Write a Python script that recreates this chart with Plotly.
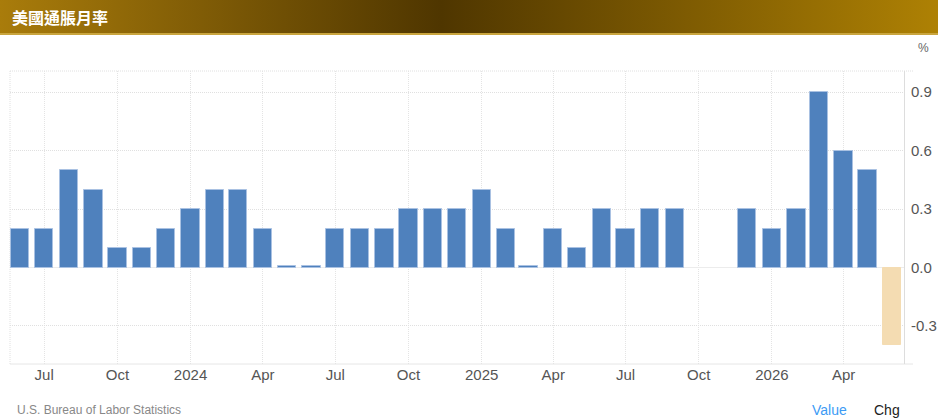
import base64
import plotly.graph_objects as go

# ---- data ----
months = [
    "2023-06-01", "2023-07-01", "2023-08-01", "2023-09-01", "2023-10-01", "2023-11-01",
    "2023-12-01", "2024-01-01", "2024-02-01", "2024-03-01", "2024-04-01", "2024-05-01",
    "2024-06-01", "2024-07-01", "2024-08-01", "2024-09-01", "2024-10-01", "2024-11-01",
    "2024-12-01", "2025-01-01", "2025-02-01", "2025-03-01", "2025-04-01", "2025-05-01",
    "2025-06-01", "2025-07-01", "2025-08-01", "2025-09-01", "2025-10-01", "2025-11-01",
    "2025-12-01", "2026-01-01", "2026-02-01", "2026-03-01", "2026-04-01", "2026-05-01",
]
values = [
    0.2, 0.2, 0.5, 0.4, 0.1, 0.1,
    0.2, 0.3, 0.4, 0.4, 0.2, 0.01,
    0.01, 0.2, 0.2, 0.2, 0.3, 0.3,
    0.3, 0.4, 0.2, 0.01, 0.2, 0.1,
    0.3, 0.2, 0.3, 0.3, None, None,
    0.3, 0.2, 0.3, 0.9, 0.6, 0.5,
]
forecast_month = ["2026-06-01"]
forecast_value = [-0.4]

x_tick_dates = ["2023-07-01", "2023-10-01", "2024-01-01", "2024-04-01", "2024-07-01",
                "2024-10-01", "2025-01-01", "2025-04-01", "2025-07-01", "2025-10-01",
                "2026-01-01", "2026-04-01"]
x_tick_text = ["Jul", "Oct", "2024", "Apr", "Jul", "Oct", "2025", "Apr", "Jul", "Oct",
               "2026", "Apr"]
y_tick_vals = [-0.3, 0.0, 0.3, 0.6, 0.9]
y_tick_text = ["%.1f" % v for v in y_tick_vals]

title_text = "美國通脹月率"
source_text = "U.S. Bureau of Labor Statistics"

# ---- layout geometry (pixels) ----
W, H = 938, 419
L, R, T, B = 10, 34, 71, 55
PW, PH = W - L - R, H - T - B


def px_x(px):
    return (px - L) / PW


def px_y(py):
    return (H - B - py) / PH


DAY = 86400000
BAR_W = 23 * DAY
FONT = "Liberation Sans, Arial, sans-serif"

fig = go.Figure()
fig.add_trace(go.Bar(
    x=months, y=values, width=BAR_W,
    marker=dict(color="#4f81bd", line=dict(color="#a9c1e2", width=1)),
    hoverinfo="x+y", showlegend=False,
))
fig.add_trace(go.Bar(
    x=forecast_month, y=forecast_value, width=BAR_W,
    marker=dict(color="#f4dcb2", line=dict(color="#f4dcb2", width=1)),
    showlegend=False,
))

# title bar gradient as svg image
svg = (
    '<svg xmlns="http://www.w3.org/2000/svg" width="938" height="35" viewBox="0 0 938 35" '
    'preserveAspectRatio="none">'
    '<defs><linearGradient id="g" x1="0" y1="0" x2="1" y2="0">'
    '<stop offset="0" stop-color="#a97c0b"/>'
    '<stop offset="0.47" stop-color="#4f3600"/>'
    '<stop offset="1" stop-color="#ae8104"/>'
    '</linearGradient></defs>'
    '<rect x="0" y="0" width="938" height="33" fill="url(#g)"/>'
    '<rect x="0" y="33" width="938" height="2" fill="#c9a53e"/>'
    '</svg>'
)
src = "data:image/svg+xml;base64," + base64.b64encode(svg.encode()).decode()

DOT = "1px,1px"

fig.update_layout(
    width=W, height=H,
    margin=dict(l=L, r=R, t=T, b=B, autoexpand=False),
    paper_bgcolor="white", plot_bgcolor="white",
    bargap=0,
    images=[dict(source=src, xref="paper", yref="paper",
                 x=px_x(0), y=px_y(0), sizex=W / PW, sizey=35 / PH,
                 xanchor="left", yanchor="top", sizing="stretch", layer="above")],
    xaxis=dict(
        type="date",
        range=["2023-05-19", "2026-06-16"],
        tickvals=x_tick_dates, ticktext=x_tick_text,
        showgrid=True, gridcolor="#e4e4e4", griddash=DOT, gridwidth=1,
        zeroline=False, showline=False, ticks="", automargin=False,
        tickfont=dict(family=FONT, size=15, color="#555555"),
        fixedrange=True,
    ),
    yaxis=dict(
        side="right",
        range=[-0.495, 1.008],
        tickvals=y_tick_vals, ticktext=y_tick_text,
        showgrid=True, gridcolor="#e0e0e0", griddash=DOT, gridwidth=1,
        zeroline=True, zerolinecolor="#ececec", zerolinewidth=1,
        showline=True, linecolor="#dddddd", linewidth=1,
        ticks="", ticklabelstandoff=3, automargin=False,
        tickfont=dict(family=FONT, size=15, color="#555555"),
        fixedrange=True,
    ),
    shapes=[
        dict(type="line", xref="paper", yref="paper", x0=0, x1=px_x(913), y0=1, y1=1,
             line=dict(color="#e0e0e0", width=1, dash=DOT), layer="below"),
        dict(type="line", xref="paper", yref="paper", x0=0, x1=0, y0=0, y1=1,
             line=dict(color="#e0e0e0", width=1, dash=DOT), layer="below"),
        dict(type="line", xref="paper", yref="paper", x0=0, x1=px_x(913), y0=0, y1=0,
             line=dict(color="#e6e6e6", width=1), layer="below"),
    ],
    annotations=[
        dict(text="<b>" + title_text + "</b>", xref="paper", yref="paper",
             x=px_x(10), y=px_y(17), xanchor="left", yanchor="middle", showarrow=False,
             font=dict(family="Noto Sans CJK TC", size=16, color="white")),
        dict(text="%", xref="paper", yref="paper", x=px_x(924), y=px_y(48),
             xanchor="center", yanchor="middle", showarrow=False,
             font=dict(family=FONT, size=12, color="#666666")),
        dict(text=source_text, xref="paper", yref="paper", x=px_x(15), y=px_y(410),
             xanchor="left", yanchor="middle", showarrow=False,
             font=dict(family=FONT, size=12, color="#888888")),
        dict(text="Value", xref="paper", yref="paper", x=px_x(810), y=px_y(410),
             xanchor="left", yanchor="middle", showarrow=False,
             font=dict(family=FONT, size=14, color="#3d9bf5")),
        dict(text="Chg", xref="paper", yref="paper", x=px_x(872), y=px_y(410),
             xanchor="left", yanchor="middle", showarrow=False,
             font=dict(family=FONT, size=14, color="#222222")),
    ],
)

fig.write_html("out.html", config={"displayModeBar": False})
